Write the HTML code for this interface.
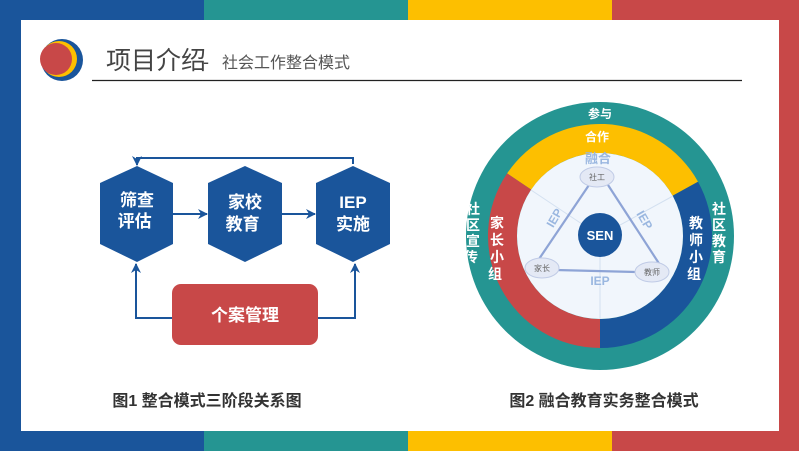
<!DOCTYPE html>
<html><head><meta charset="utf-8"><style>
html,body{margin:0;padding:0;background:#fff}
svg text{font-family:"Liberation Sans","Noto Sans CJK SC",sans-serif}
</style></head><body>
<svg width="799" height="451" viewBox="0 0 799 451" xmlns="http://www.w3.org/2000/svg">
<defs>
<marker id="ar" markerWidth="10" markerHeight="10" refX="9" refY="5" orient="auto" markerUnits="userSpaceOnUse"><path d="M0,0 L10,5 L0,10 L3,5 Z" fill="#1a559b"/></marker>
</defs>
<rect x="0" y="0" width="204" height="20" fill="#1a559b"/>
<rect x="204" y="0" width="204" height="20" fill="#259592"/>
<rect x="408" y="0" width="204" height="20" fill="#fdbf00"/>
<rect x="612" y="0" width="187" height="20" fill="#c84848"/>
<rect x="0" y="431" width="204" height="20" fill="#1a559b"/>
<rect x="204" y="431" width="204" height="20" fill="#259592"/>
<rect x="408" y="431" width="204" height="20" fill="#fdbf00"/>
<rect x="612" y="431" width="187" height="20" fill="#c84848"/>
<rect x="0" y="0" width="21" height="451" fill="#1a559b"/>
<rect x="779" y="0" width="20" height="451" fill="#c84848"/>
<circle cx="62" cy="60" r="21" fill="#1a559b"/>
<circle cx="59" cy="59" r="18" fill="#fdbf00"/>
<circle cx="56" cy="59" r="16" fill="#c84848"/>
<text x="106" y="69" font-size="25" fill="#444">项目介绍</text>
<text x="203" y="68" font-size="18" fill="#444">-</text>
<text x="222" y="68" font-size="16" fill="#555">社会工作整合模式</text>
<line x1="92" y1="80.5" x2="742" y2="80.5" stroke="#222" stroke-width="1.2"/>
<polygon points="137,166 173,183 173,244 137,262 100,244 100,183" fill="#1a559b"/>
<polygon points="245,166 282,183 282,244 245,262 208,244 208,183" fill="#1a559b"/>
<polygon points="353,166 390,183 390,244 353,262 316,244 316,183" fill="#1a559b"/>
<text fill="#fff" font-size="17" font-weight="bold" text-anchor="middle">
<tspan x="137" y="206">筛查</tspan><tspan x="137" y="227">评估</tspan>
<tspan x="245" y="208">家校</tspan><tspan x="245" y="230">教育</tspan>
<tspan x="353" y="208">IEP</tspan><tspan x="353" y="230">实施</tspan>
</text>
<g stroke="#1a559b" stroke-width="2" fill="none">
<line x1="173" y1="214" x2="207" y2="214" marker-end="url(#ar)"/>
<line x1="282" y1="214" x2="315" y2="214" marker-end="url(#ar)"/>
<polyline points="353,164 353,158 137,158 137,165" marker-end="url(#ar)"/>
<polyline points="172,318 136,318 136,264" marker-end="url(#ar)"/>
<polyline points="318,318 355,318 355,264" marker-end="url(#ar)"/>
</g>
<rect x="172" y="284" width="146" height="61" rx="9" fill="#c84848"/>
<text x="245" y="321" fill="#fff" font-size="17" font-weight="bold" text-anchor="middle">个案管理</text>
<text x="207" y="406" font-size="16" font-weight="bold" fill="#333" text-anchor="middle">图1  整合模式三阶段关系图</text>
<circle cx="600" cy="236" r="134" fill="#259592"/>
<path d="M507.1,173.4 A112 112 0 0 1 698,181.7 L672.6,195.8 A83 83 0 0 0 531.2,189.6 Z" fill="#fdbf00"/>
<path d="M698,181.7 A112 112 0 0 1 600,348 L600,319 A83 83 0 0 0 672.6,195.8 Z" fill="#1a559b"/>
<path d="M600,348 A112 112 0 0 1 507.1,173.4 L531.2,189.6 A83 83 0 0 0 600,319 Z" fill="#c84848"/>
<circle cx="600" cy="236" r="83" fill="#f1f6fc"/>
<g stroke="#d3e0f0" stroke-width="1">
<line x1="600" y1="236" x2="600" y2="319"/>
<line x1="600" y1="236" x2="531" y2="190"/>
<line x1="600" y1="236" x2="673" y2="196"/>
</g>
<g stroke="#8ea4d6" stroke-width="2.2">
<line x1="589" y1="185" x2="537" y2="262"/>
<line x1="608" y1="185" x2="660" y2="265"/>
<line x1="556" y1="270" x2="636" y2="272"/>
</g>
<ellipse cx="597" cy="177" rx="17" ry="10" fill="#e4e9f5" stroke="#c0cbe6"/>
<ellipse cx="542" cy="268" rx="17" ry="10" fill="#e4e9f5" stroke="#c0cbe6"/>
<ellipse cx="652" cy="272" rx="17" ry="10" fill="#e4e9f5" stroke="#c0cbe6"/>
<text font-size="8" fill="#666" text-anchor="middle"><tspan x="597" y="180">社工</tspan><tspan x="542" y="271">家长</tspan><tspan x="652" y="275">教师</tspan></text>
<circle cx="600" cy="235" r="22" fill="#1a559b"/>
<text x="600" y="240" font-size="13" font-weight="bold" fill="#fff" text-anchor="middle">SEN</text>
<text x="598" y="163" font-size="13" font-weight="bold" fill="#9ab7e0" text-anchor="middle">融合</text>
<text x="600" y="285" font-size="12" font-weight="bold" fill="#9ab7e0" text-anchor="middle">IEP</text>
<text x="0" y="0" font-size="12" font-weight="bold" fill="#9ab7e0" text-anchor="middle" transform="translate(558,220) rotate(-60)">IEP</text>
<text x="0" y="0" font-size="12" font-weight="bold" fill="#9ab7e0" text-anchor="middle" transform="translate(641,222) rotate(60)">IEP</text>
<text font-size="12" font-weight="bold" fill="#fff" text-anchor="middle">
<tspan x="600" y="118">参与</tspan><tspan x="597" y="141">合作</tspan>
</text>
<text font-size="14" font-weight="bold" fill="#fff" text-anchor="middle">
<tspan x="473" y="214">社</tspan><tspan x="473" y="230">区</tspan><tspan x="473" y="246">宣</tspan><tspan x="473" y="262">传</tspan>
<tspan x="497" y="228">家</tspan><tspan x="497" y="245">长</tspan><tspan x="497" y="262">小</tspan><tspan x="497" y="279">组</tspan>
<tspan x="696" y="228">教</tspan><tspan x="696" y="245">师</tspan><tspan x="696" y="262">小</tspan><tspan x="696" y="279">组</tspan>
<tspan x="719" y="214">社</tspan><tspan x="719" y="230">区</tspan><tspan x="719" y="246">教</tspan><tspan x="719" y="262">育</tspan>
</text>
<text x="604" y="406" font-size="16" font-weight="bold" fill="#333" text-anchor="middle">图2  融合教育实务整合模式</text>
</svg>
</body></html>
